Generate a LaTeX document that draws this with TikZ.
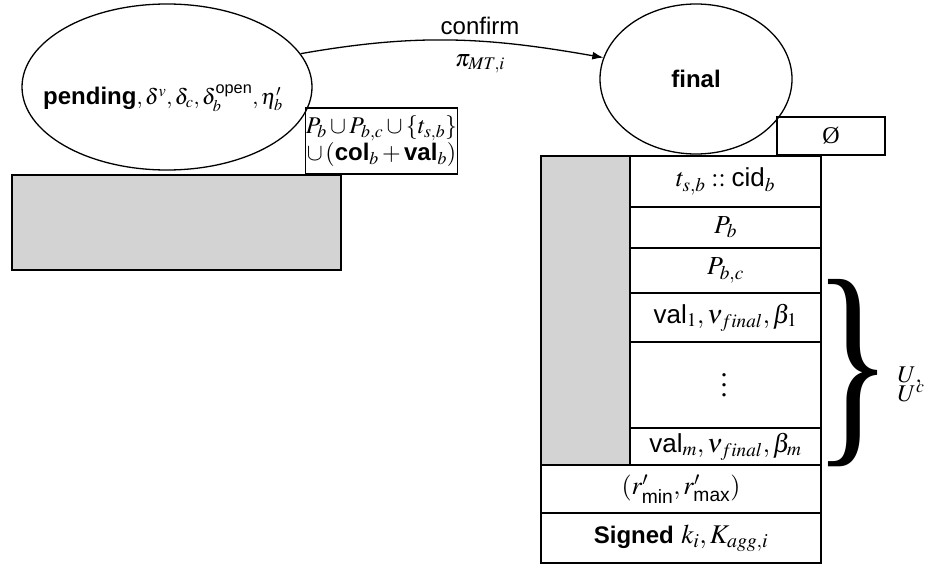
\documentclass[tikz,border=0pt]{standalone}
\usepackage{amsmath}
\usepackage{mathptmx}
\usepackage[no-math]{fontspec}
\setmainfont{Liberation Sans}
\setsansfont{Liberation Sans}
\newfontfamily\serifont{Liberation Serif}
\usetikzlibrary{arrows.meta,shapes.geometric}
\definecolor{greyfill}{RGB}{211,211,211}
\newcommand{\mydots}{\vbox{\serifont\fontsize{28}{10}\selectfont\baselineskip=10pt\lineskiplimit=-20pt\hbox{.}\hbox{.}\hbox{.}}}
\begin{document}
\begin{tikzpicture}[x=1pt,y=-1pt,line width=1.3pt,
  font=\fontsize{24}{27}\selectfont,
  cell/.style={draw,inner sep=0pt,minimum width=191pt,align=center,font=\fontsize{26}{30}\selectfont},
  wcell/.style={draw,inner sep=0pt,minimum width=280pt,align=center,font=\fontsize{26}{30}\selectfont},
  state/.style={draw,ellipse,inner sep=0pt}]
\useasboundingbox (0,0) rectangle (933,567);

% pending state
\node[state,minimum width=290pt,minimum height=166pt] (pending) at (167,87) {};
\node (pendtext) at (163,98) {\textbf{pending}\fontsize{22}{26}\selectfont$, \delta^{v}, \delta_{c}, \delta_{b}^{\text{open}}, \eta'_{b}$};

% final state
\node[state,minimum width=192pt,minimum height=150pt] (final) at (696,79) {\textbf{final}};

% transition
\draw[-{Latex[length=11pt,width=8pt]}] (pending.14) to[out=10,in=170] (final.167);
\node (confirm) at (480,26) {confirm};
\node (pi) at (480,64) {$\pi_{MT,i}$};

% boxes near pending
\node[draw,inner sep=0pt,minimum width=149pt,minimum height=66pt,align=center]
  (pbox) at (381.5,141) {$P_b \cup P_{b,c} \cup \{t_{s,b}\}$\\$\cup\,(\textbf{col}_b + \textbf{val}_b)$};
\node[draw,fill=greyfill,inner sep=0pt,minimum width=329pt,minimum height=95pt] (greyrect) at (176.5,222.5) {};

% empty box near final
\node[draw,inner sep=0pt,minimum width=108pt,minimum height=38pt,font=\serifont\fontsize{24}{27}\selectfont] (empty) at (831,136) {Ø};

% table
\node[draw,fill=greyfill,inner sep=0pt,minimum width=89pt,minimum height=309pt] (gcol) at (585.5,310.5) {};
\node[cell,minimum height=51pt] (r1) at (725.5,181.5) {$t_{s,b} :: \text{cid}_b$};
\node[cell,minimum height=41pt] (r2) at (725.5,227.5) {$P_b$};
\node[cell,minimum height=45pt] (r3) at (725.5,270.5) {$P_{b,c}$};
\node[cell,minimum height=49pt] (r4) at (725.5,317.5) {$\text{val}_1, \nu_{final}, \beta_1$};
\node[cell,minimum height=86pt] (r5) at (725.5,385) {};
\node[inner sep=0pt] (dots) at (724,385) {\mydots};
\node[cell,minimum height=37pt] (r6) at (725.5,446.5) {$\text{val}_m, \nu_{final}, \beta_m$};
\node[wcell,minimum height=48pt] (r7) at (681,489) {$(r'_{\text{min}}, r'_{\text{max}})$};
\node[wcell,minimum height=50pt,font=\fontsize{27}{30}\selectfont] (r8) at (681,538) {{\fontsize{24}{28}\selectfont\textbf{Signed}} $k_i, K_{agg,i}$};

% brace
\node[inner sep=0pt] (brace) at (853,373) {\resizebox{79pt}{157pt}{\serifont\}}};
\node[anchor=base west,inner sep=0pt] (ulab1) at (897,382) {$U,$};
\node[anchor=base west,inner sep=0pt] (ulab2) at (897,401) {$U^c$};
\end{tikzpicture}
\end{document}
